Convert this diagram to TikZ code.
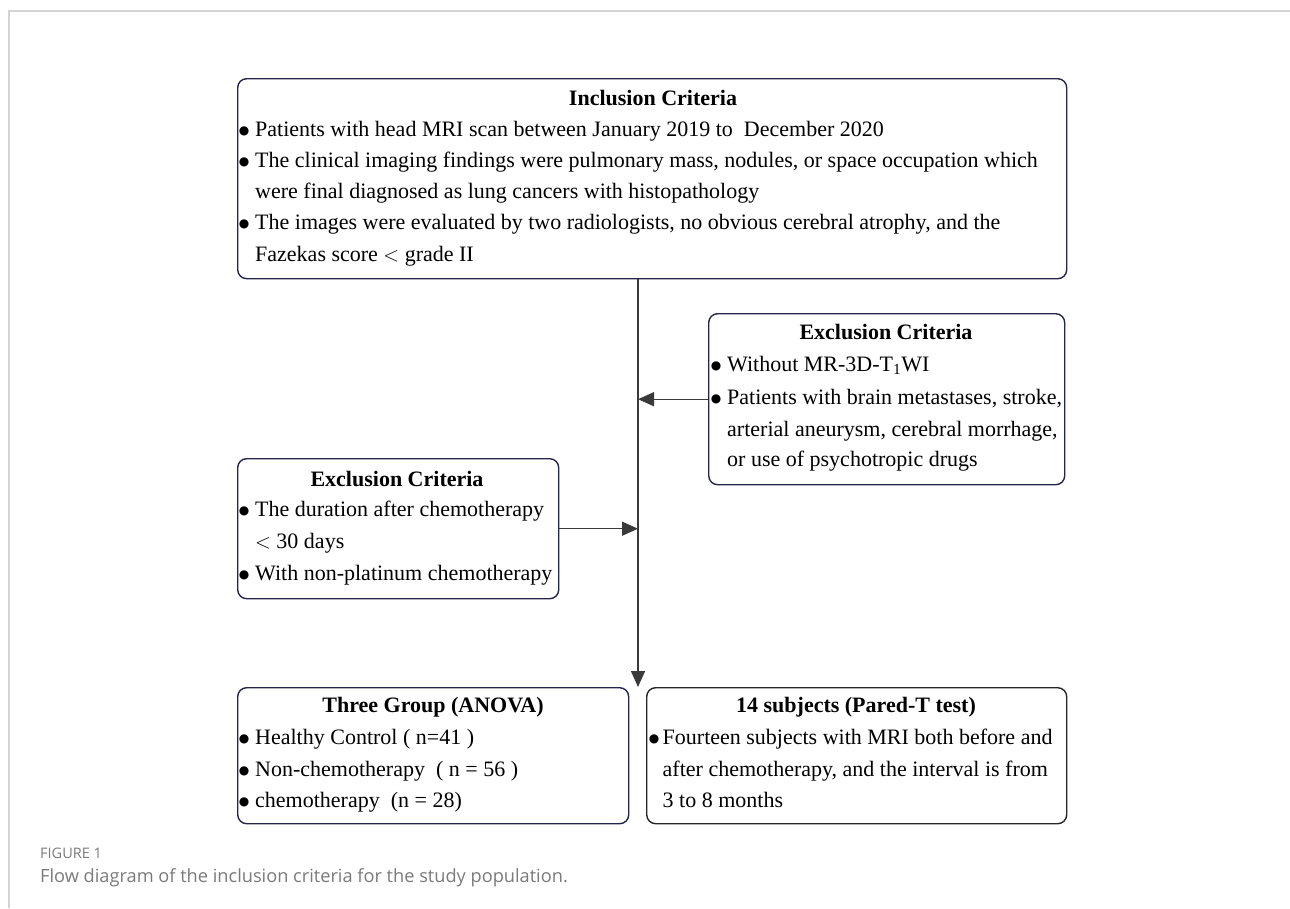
\documentclass[tikz,border=0pt]{standalone}
\usepackage{fontspec}
\setmainfont{Liberation Serif}
\newfontfamily\capfont{Open Sans}
\newfontfamily\dotfont{DejaVu Sans}
\usetikzlibrary{arrows.meta}
\definecolor{boxc}{HTML}{25254A}
\definecolor{linec}{HTML}{3A3A3A}
\definecolor{framec}{HTML}{D4D4D4}
\definecolor{capc}{HTML}{7A7A7A}
\newcommand{\bul}[1][17.5pt]{\makebox[#1][l]{\hspace{1.2pt}\raisebox{1.2pt}{\dotfont\fontsize{12}{12}\selectfont ●}}}
\begin{document}
\begin{tikzpicture}[x=1pt,y=-1pt,
  box/.style={draw=boxc, line width=1.4pt, rounded corners=9pt, inner sep=0pt, anchor=north west},
  ln/.style={anchor=base west, inner sep=0pt, font=\fontsize{22}{26}\selectfont},
  ttl/.style={anchor=base, inner sep=0pt, font=\fontsize{22}{26}\selectfont\bfseries},
  conn/.style={draw=linec, line width=1.4pt},
  tip/.style={-{Triangle[length=16pt,width=14pt]}},
  captxt/.style={anchor=base west, inner sep=0pt, text=capc}
]
\useasboundingbox (0,0) rectangle (1290,908);
% page frame
\draw[framec, line width=1.5pt] (1290,11) -- (9,11) -- (9,908);

% boxes
\node[box, minimum width=829pt, minimum height=200pt] (inc) at (237,78) {};
\node[box, minimum width=356pt, minimum height=171pt] (exr) at (708,313) {};
\node[box, minimum width=321pt, minimum height=140pt] (exl) at (237,458) {};
\node[box, minimum width=391pt, minimum height=136pt] (three) at (237,687) {};
\node[box, draw=black!85, minimum width=420pt, minimum height=136pt] (four) at (646,687) {};

% inclusion text
\node[ttl] (incT) at (653,105) {Inclusion Criteria};
\node[ln] (inc1) at (237.5,136) {\bul Patients with head MRI scan between January 2019 to\ \ December 2020};
\node[ln] (inc2) at (237.5,167) {\bul The clinical imaging findings were pulmonary mass, nodules, or space occupation which};
\node[ln] (inc3) at (255,198) {were final diagnosed as lung cancers with histopathology};
\node[ln] (inc4) at (237.5,229) {\bul The images were evaluated by two radiologists, no obvious cerebral atrophy, and the};
\node[ln] (inc5) at (255,261) {Fazekas score $<$ grade II};

% right exclusion
\node[ttl] (exrT) at (886,339) {Exclusion Criteria};
\node[ln] (exr1) at (709.5,371) {\bul Without MR-3D-T\textsubscript{1}WI};
\node[ln] (exr2) at (709.5,404) {\bul Patients with brain metastases, stroke,};
\node[ln] (exr3) at (727,436) {arterial aneurysm, cerebral morrhage,};
\node[ln] (exr4) at (727,466) {or use of psychotropic drugs};

% left exclusion
\node[ttl] (exlT) at (397,486) {Exclusion Criteria};
\node[ln] (exl1) at (237.5,516) {\bul The duration after chemotherapy};
\node[ln] (exl2) at (255,548) {$<$ 30 days};
\node[ln] (exl3) at (237.5,580) {\bul With non-platinum chemotherapy};

% three group
\node[ttl] (threeT) at (433,712) {Three Group (ANOVA)};
\node[ln] (three1) at (237.5,744) {\bul Healthy Control ( n=41 )};
\node[ln] (three2) at (237.5,776) {\bul Non-chemotherapy\ \ ( n = 56 )};
\node[ln] (three3) at (237.5,807) {\bul chemotherapy\ \ (n = 28)};

% 14 subjects
\node[ttl] (fourT) at (856,712) {14 subjects (Pared-T test)};
\node[ln] (four1) at (647.5,744) {\bul[15pt]Fourteen subjects with MRI both before and};
\node[ln] (four2) at (662.5,776) {after chemotherapy, and the interval is from};
\node[ln] (four3) at (662.5,807) {3 to 8 months};

% connectors
\coordinate (trunk) at (638,0);
\draw[conn, tip] (inc.south -| trunk) -- (trunk |- three.north);
\draw[conn, tip] (exr.west) -- (exr.west -| trunk);
\draw[conn, tip] (exl.east) -- (exl.east -| trunk);

% caption
\node[captxt, font=\capfont\fontsize{14.5}{16}\selectfont] (figlab) at (40,858) {FIGURE 1};
\node[captxt, font=\capfont\fontsize{18.2}{20}\selectfont] (figcap) at (40,882) {Flow diagram of the inclusion criteria for the study population.};
\end{tikzpicture}
\end{document}
